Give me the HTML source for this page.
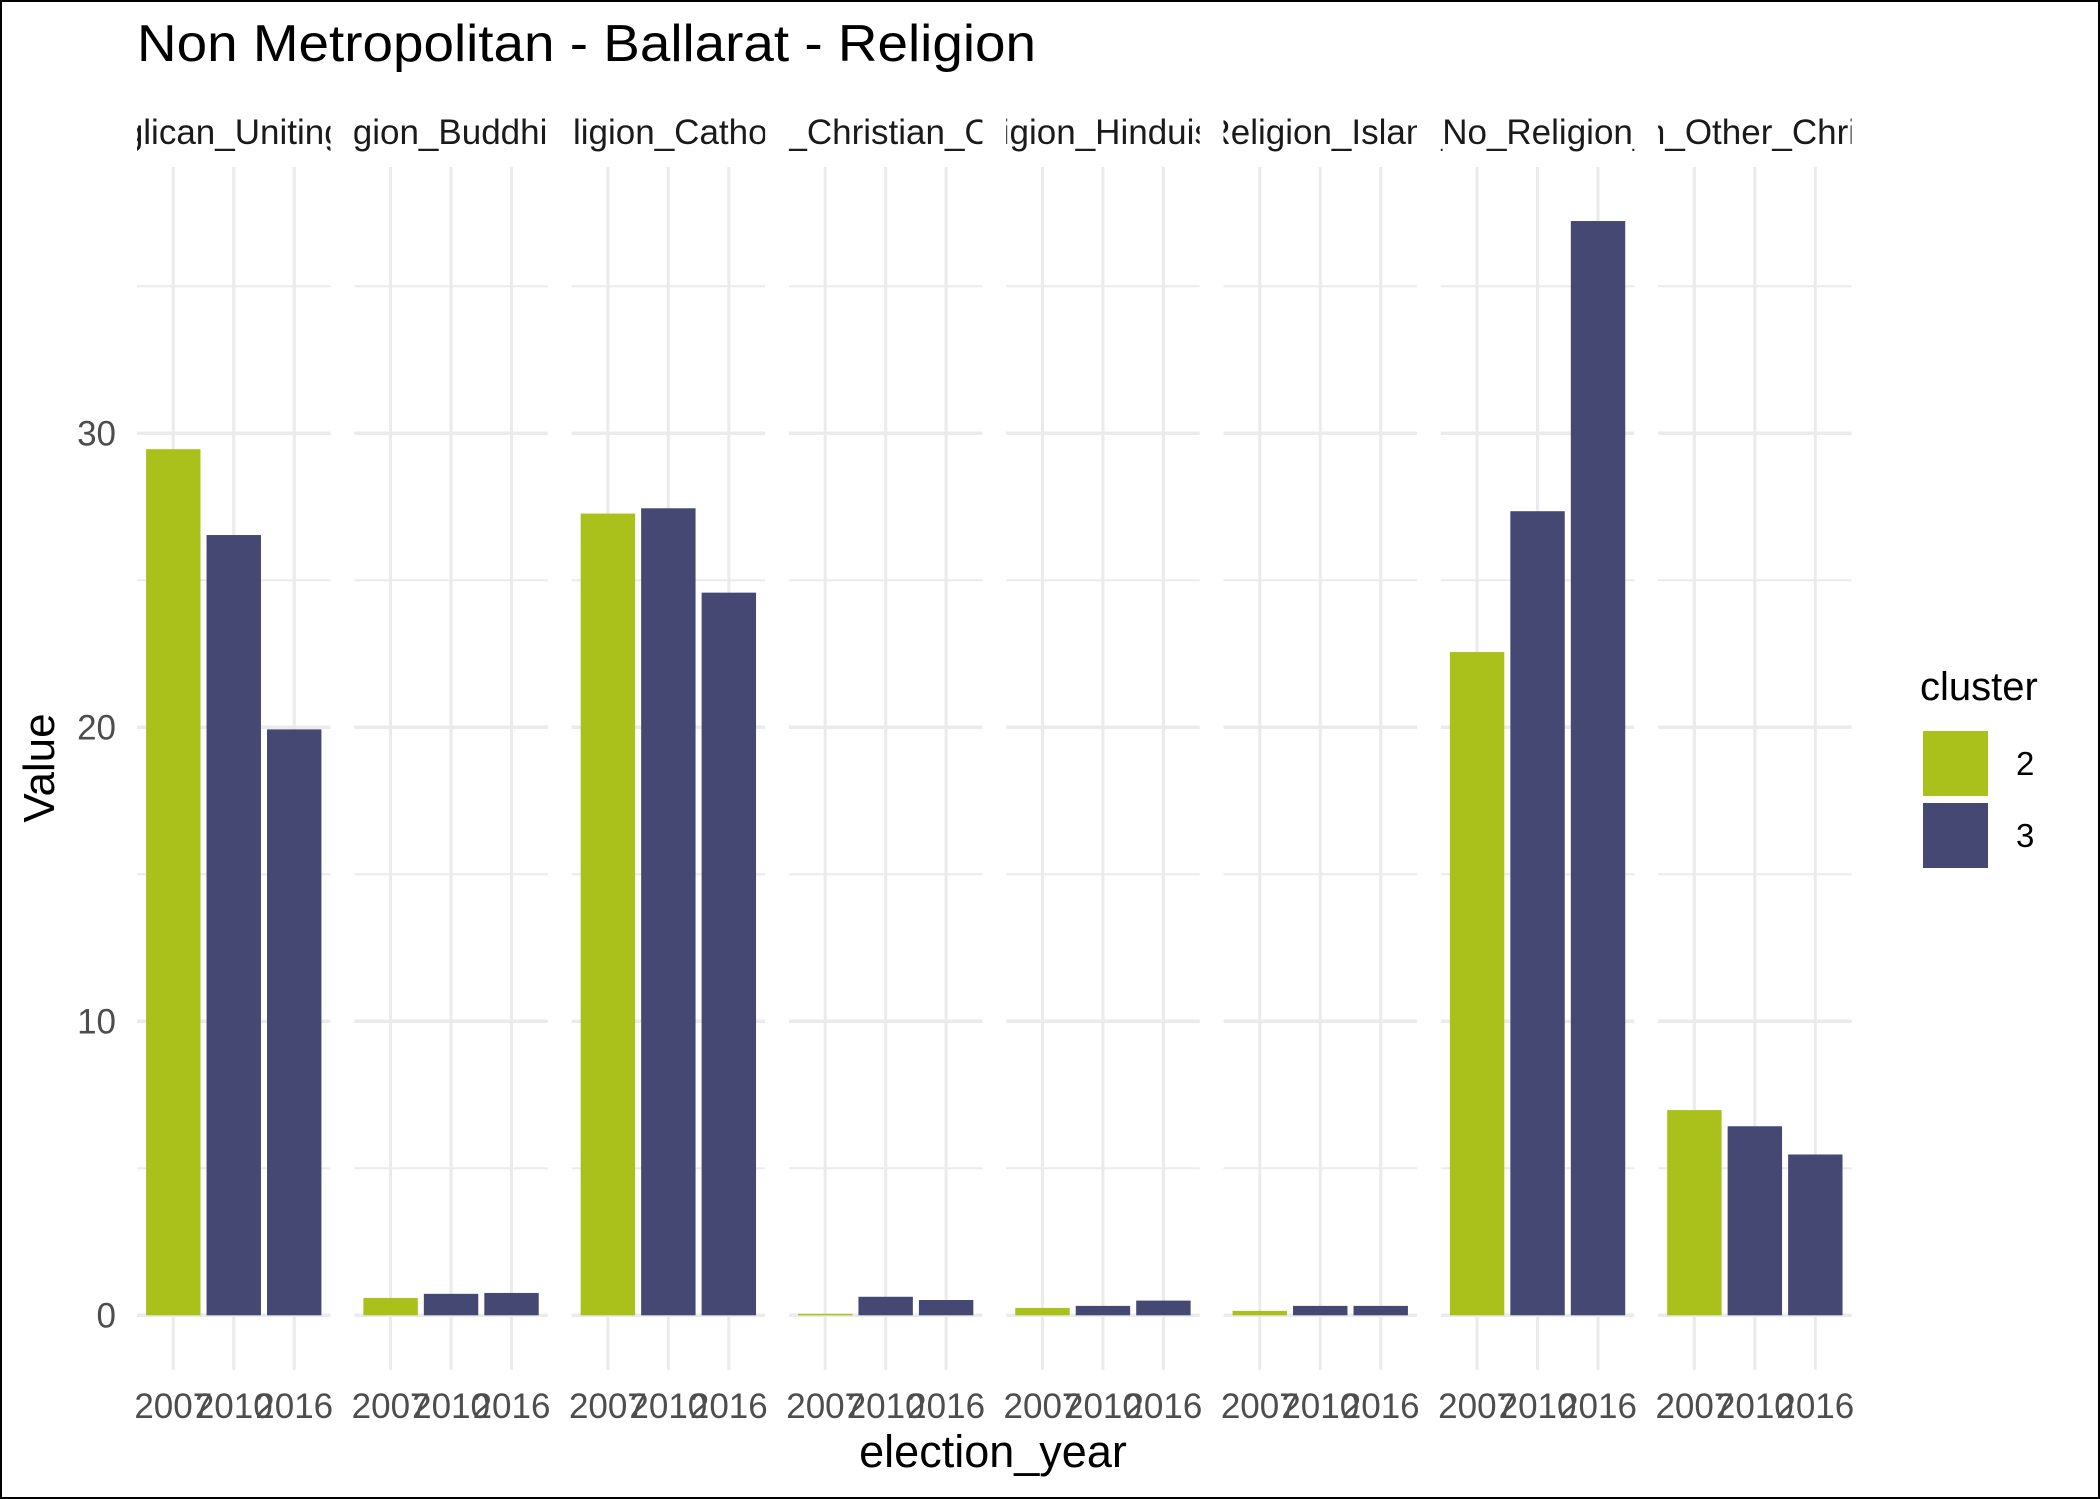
<!DOCTYPE html>
<html><head><meta charset="utf-8"><style>
html,body{margin:0;padding:0;background:#fff}
svg{display:block;font-family:"Liberation Sans",sans-serif}
</style></head><body>
<svg id="chart" width="2100" height="1499" viewBox="0 0 2100 1499" xmlns="http://www.w3.org/2000/svg">
<rect x="1" y="1" width="2098" height="1497" fill="#fff" stroke="#000" stroke-width="2"/>
<text x="137" y="61" font-size="52" textLength="899" lengthAdjust="spacingAndGlyphs" fill="#000">Non Metropolitan - Ballarat - Religion</text>
<g id="panels"></g>
<text x="0" y="0" font-size="44" text-anchor="middle" fill="#000" transform="translate(54,768) rotate(-90)">Value</text>
<text x="993" y="1467" font-size="45" text-anchor="middle" fill="#000">election_year</text>
<g>
<text x="1920" y="700" font-size="40" fill="#000">cluster</text>
<rect x="1923" y="731" width="65" height="65" fill="#a9c11a"/>
<text x="2016" y="775" font-size="33" fill="#000">2</text>
<rect x="1923" y="803" width="65" height="65" fill="#464874"/>
<text x="2016" y="847" font-size="33" fill="#000">3</text>
</g>
</svg>
<script>
const panelNames = ["glican_Uniting","ligion_Buddhis","eligion_Catholi","n_Christian_Or","ligion_Hinduis","Religion_Islam","_No_Religion_","on_Other_Christ"];
const years = ["2007","2010","2016"];
const clusters = ["2","3","3"];
const values2007 = [29.46, 0.59, 27.27, 0.05, 0.25, 0.15, 22.56, 6.98];
const values2010 = [26.54, 0.73, 27.45, 0.63, 0.32, 0.32, 27.35, 6.43];
const values2016 = [19.93, 0.76, 24.58, 0.52, 0.50, 0.32, 37.22, 5.47];
const yTicks = [0, 10, 20, 30];
const yMinor = [5, 15, 25, 35];

const NS = "http://www.w3.org/2000/svg";
const g = document.getElementById("panels");
const P0 = 137, PW = 193.5, PSTEP = 217.3, TOP = 167, BOT = 1370;
const Y0 = 1315.3, PPU = 29.4;
const y = v => Y0 - v * PPU;
const xc = (p, i) => P0 + p * PSTEP + (i + 0.6) * (PW / 3.2);
const colors = {"2": "#a9c11a", "3": "#464874"};
function mk(tag, attrs, parent) {
  const e = document.createElementNS(NS, tag);
  for (const k in attrs) e.setAttribute(k, attrs[k]);
  parent.appendChild(e);
  return e;
}
const defs = mk("defs", {}, g);
const series = [values2007, values2010, values2016];
panelNames.forEach((name, p) => {
  const px = P0 + p * PSTEP;
  const pg = mk("g", {}, g);
  
  
  yMinor.forEach(t => { const l = mk("line", {x1: px, x2: px + PW, y1: y(t), y2: y(t), stroke: "#ebebeb", "stroke-width": 2}, pg);
    
     });
  yTicks.forEach(t => { const l = mk("line", {x1: px, x2: px + PW, y1: y(t), y2: y(t), stroke: "#ebebeb", "stroke-width": 3.5}, pg);
    
     });
  years.forEach((yr, i) => { const l = mk("line", {x1: xc(p, i), x2: xc(p, i), y1: TOP, y2: BOT, stroke: "#ebebeb", "stroke-width": 3}, pg);
    
     });
  years.forEach((yr, i) => {
    const v = series[i][p];
    const bw = 0.9 * PW / 3.2;
    const r = mk("rect", {x: xc(p, i) - bw / 2, y: y(v), width: bw, height: Math.max(Y0 - y(v), 0.5), fill: colors[clusters[i]]}, pg);
    
    
    const t = mk("text", {x: xc(p, i), y: 1418, "font-size": 35, fill: "#4d4d4d", "text-anchor": "middle"}, pg);
    t.textContent = yr;
    
    
  });
  const cp = mk("clipPath", {id: "clip" + p}, defs);
  mk("rect", {x: px, y: 100, width: PW, height: 60}, cp);
  const st = mk("text", {x: px + PW / 2, y: 144, "font-size": 35, fill: "#1a1a1a", "text-anchor": "middle", "clip-path": "url(#clip" + p + ")"}, pg);
  st.textContent = name;
  
  
});
yTicks.forEach(t => {
  const e = mk("text", {x: 116, y: y(t) + 12, "font-size": 35, fill: "#4d4d4d", "text-anchor": "end"}, g);
  e.textContent = t;
  
  
});
</script>
</body></html>
